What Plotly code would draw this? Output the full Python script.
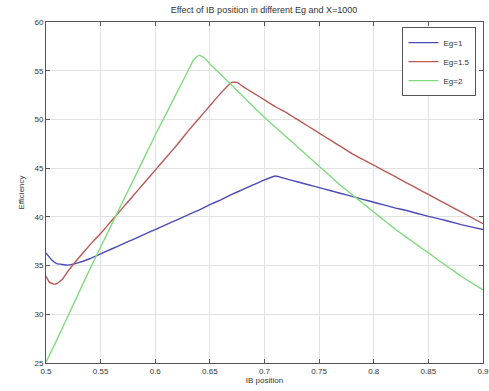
import plotly.graph_objects as go

# IB position values and efficiencies
x_eg1 = [0.50, 0.505, 0.51, 0.52, 0.53, 0.54, 0.55, 0.56, 0.57, 0.58, 0.59, 0.60,
         0.61, 0.62, 0.63, 0.64, 0.65, 0.66, 0.67, 0.68, 0.69, 0.70, 0.71, 0.72,
         0.73, 0.74, 0.75, 0.76, 0.77, 0.78, 0.79, 0.80, 0.81, 0.82, 0.83, 0.84,
         0.85, 0.86, 0.87, 0.88, 0.89, 0.90]
y_eg1 = [36.3, 35.6, 35.2, 35.05, 35.3, 35.7, 36.2, 36.7, 37.2, 37.7, 38.2, 38.7,
         39.2, 39.7, 40.2, 40.7, 41.25, 41.75, 42.3, 42.8, 43.3, 43.8, 44.2, 43.9,
         43.6, 43.3, 43.0, 42.7, 42.4, 42.1, 41.8, 41.5, 41.2, 40.9, 40.65, 40.35,
         40.05, 39.8, 39.5, 39.2, 38.95, 38.7]

x_eg15 = [0.50, 0.503, 0.507, 0.51, 0.515, 0.52, 0.53, 0.54, 0.55, 0.56, 0.57,
          0.58, 0.59, 0.60, 0.61, 0.62, 0.63, 0.64, 0.65, 0.66, 0.67, 0.675, 0.68,
          0.69, 0.70, 0.71, 0.72, 0.73, 0.74, 0.75, 0.76, 0.77, 0.78, 0.79, 0.80,
          0.81, 0.82, 0.83, 0.84, 0.85, 0.86, 0.87, 0.88, 0.89, 0.90]
y_eg15 = [33.9, 33.3, 33.1, 33.15, 33.6, 34.4, 35.8, 37.1, 38.3, 39.6, 40.9,
          42.2, 43.5, 44.8, 46.1, 47.4, 48.8, 50.1, 51.4, 52.7, 53.8, 53.8, 53.4,
          52.7, 52.0, 51.3, 50.7, 50.0, 49.3, 48.6, 47.9, 47.2, 46.5, 45.9, 45.3,
          44.7, 44.1, 43.5, 42.9, 42.3, 41.7, 41.1, 40.5, 39.9, 39.3]

x_eg2 = [0.50, 0.51, 0.52, 0.53, 0.54, 0.55, 0.56, 0.57, 0.58, 0.59, 0.60, 0.61,
         0.62, 0.63, 0.635, 0.64, 0.645, 0.65, 0.66, 0.67, 0.68, 0.69, 0.70, 0.71,
         0.72, 0.73, 0.74, 0.75, 0.76, 0.77, 0.78, 0.79, 0.80, 0.81, 0.82, 0.83,
         0.84, 0.85, 0.86, 0.87, 0.88, 0.89, 0.90]
y_eg2 = [25.1, 27.4, 29.8, 32.2, 34.6, 36.9, 39.2, 41.5, 43.8, 46.1, 48.4, 50.6,
         52.8, 55.0, 56.1, 56.6, 56.3, 55.7, 54.6, 53.5, 52.4, 51.3, 50.2, 49.2,
         48.2, 47.2, 46.2, 45.2, 44.2, 43.2, 42.3, 41.4, 40.5, 39.6, 38.7, 37.9,
         37.1, 36.3, 35.5, 34.7, 33.9, 33.2, 32.5]

series_names = ["Eg=1", "Eg=1.5", "Eg=2"]
x_ticks = [0.5, 0.55, 0.6, 0.65, 0.7, 0.75, 0.8, 0.85, 0.9]
x_tick_labels = ["0.5", "0.55", "0.6", "0.65", "0.7", "0.75", "0.8", "0.85", "0.9"]
y_ticks = [25, 30, 35, 40, 45, 50, 55, 60]

colors = ["#4b4bb4", "#b85a55", "#7fdc7f"]

fig = go.Figure()
for xs, ys, name, c in zip([x_eg1, x_eg15, x_eg2], [y_eg1, y_eg15, y_eg2], series_names, colors):
    fig.add_trace(go.Scatter(x=xs, y=ys, mode="lines", name=name,
                             line=dict(color=c, width=1.4, shape="spline", smoothing=0.3)))

axis_common = dict(showline=True, mirror="allticks", linecolor="#555", linewidth=1,
                   ticks="inside", ticklen=4, tickcolor="#555",
                   showgrid=True, gridcolor="#e2e2e2", gridwidth=1,
                   zeroline=False, tickfont=dict(size=8, color="#333"),
                   automargin=False, ticklabeloverflow="allow")

fig.update_layout(
    width=489, height=391,
    margin=dict(l=46, r=6, t=22, b=28),
    paper_bgcolor="white", plot_bgcolor="white",
    font=dict(family="Liberation Sans, Arial, sans-serif", color="#333"),
    title=dict(text="Effect of IB position in different Eg and X=1000",
               x=0.54, xanchor="center", y=0.975, yanchor="middle",
               font=dict(size=9, color="#333")),
    xaxis=dict(range=[0.5, 0.9], tickvals=x_ticks, ticktext=x_tick_labels,
               title=dict(text="IB position", font=dict(size=8), standoff=2),
               **axis_common),
    yaxis=dict(range=[25, 60], tickvals=y_ticks,
               title=dict(text="Efficiency", font=dict(size=8), standoff=8),
               **axis_common),
    legend=dict(x=0.985, y=0.985, xanchor="right", yanchor="top",
                bgcolor="white", bordercolor="#555", borderwidth=1,
                font=dict(size=8, color="#333"), tracegroupgap=0,
                itemwidth=30),
    showlegend=True,
)

fig.write_html("out.html", config={"displayModeBar": False},
               post_script="document.body.style.margin='0';document.body.style.overflow='hidden';")
